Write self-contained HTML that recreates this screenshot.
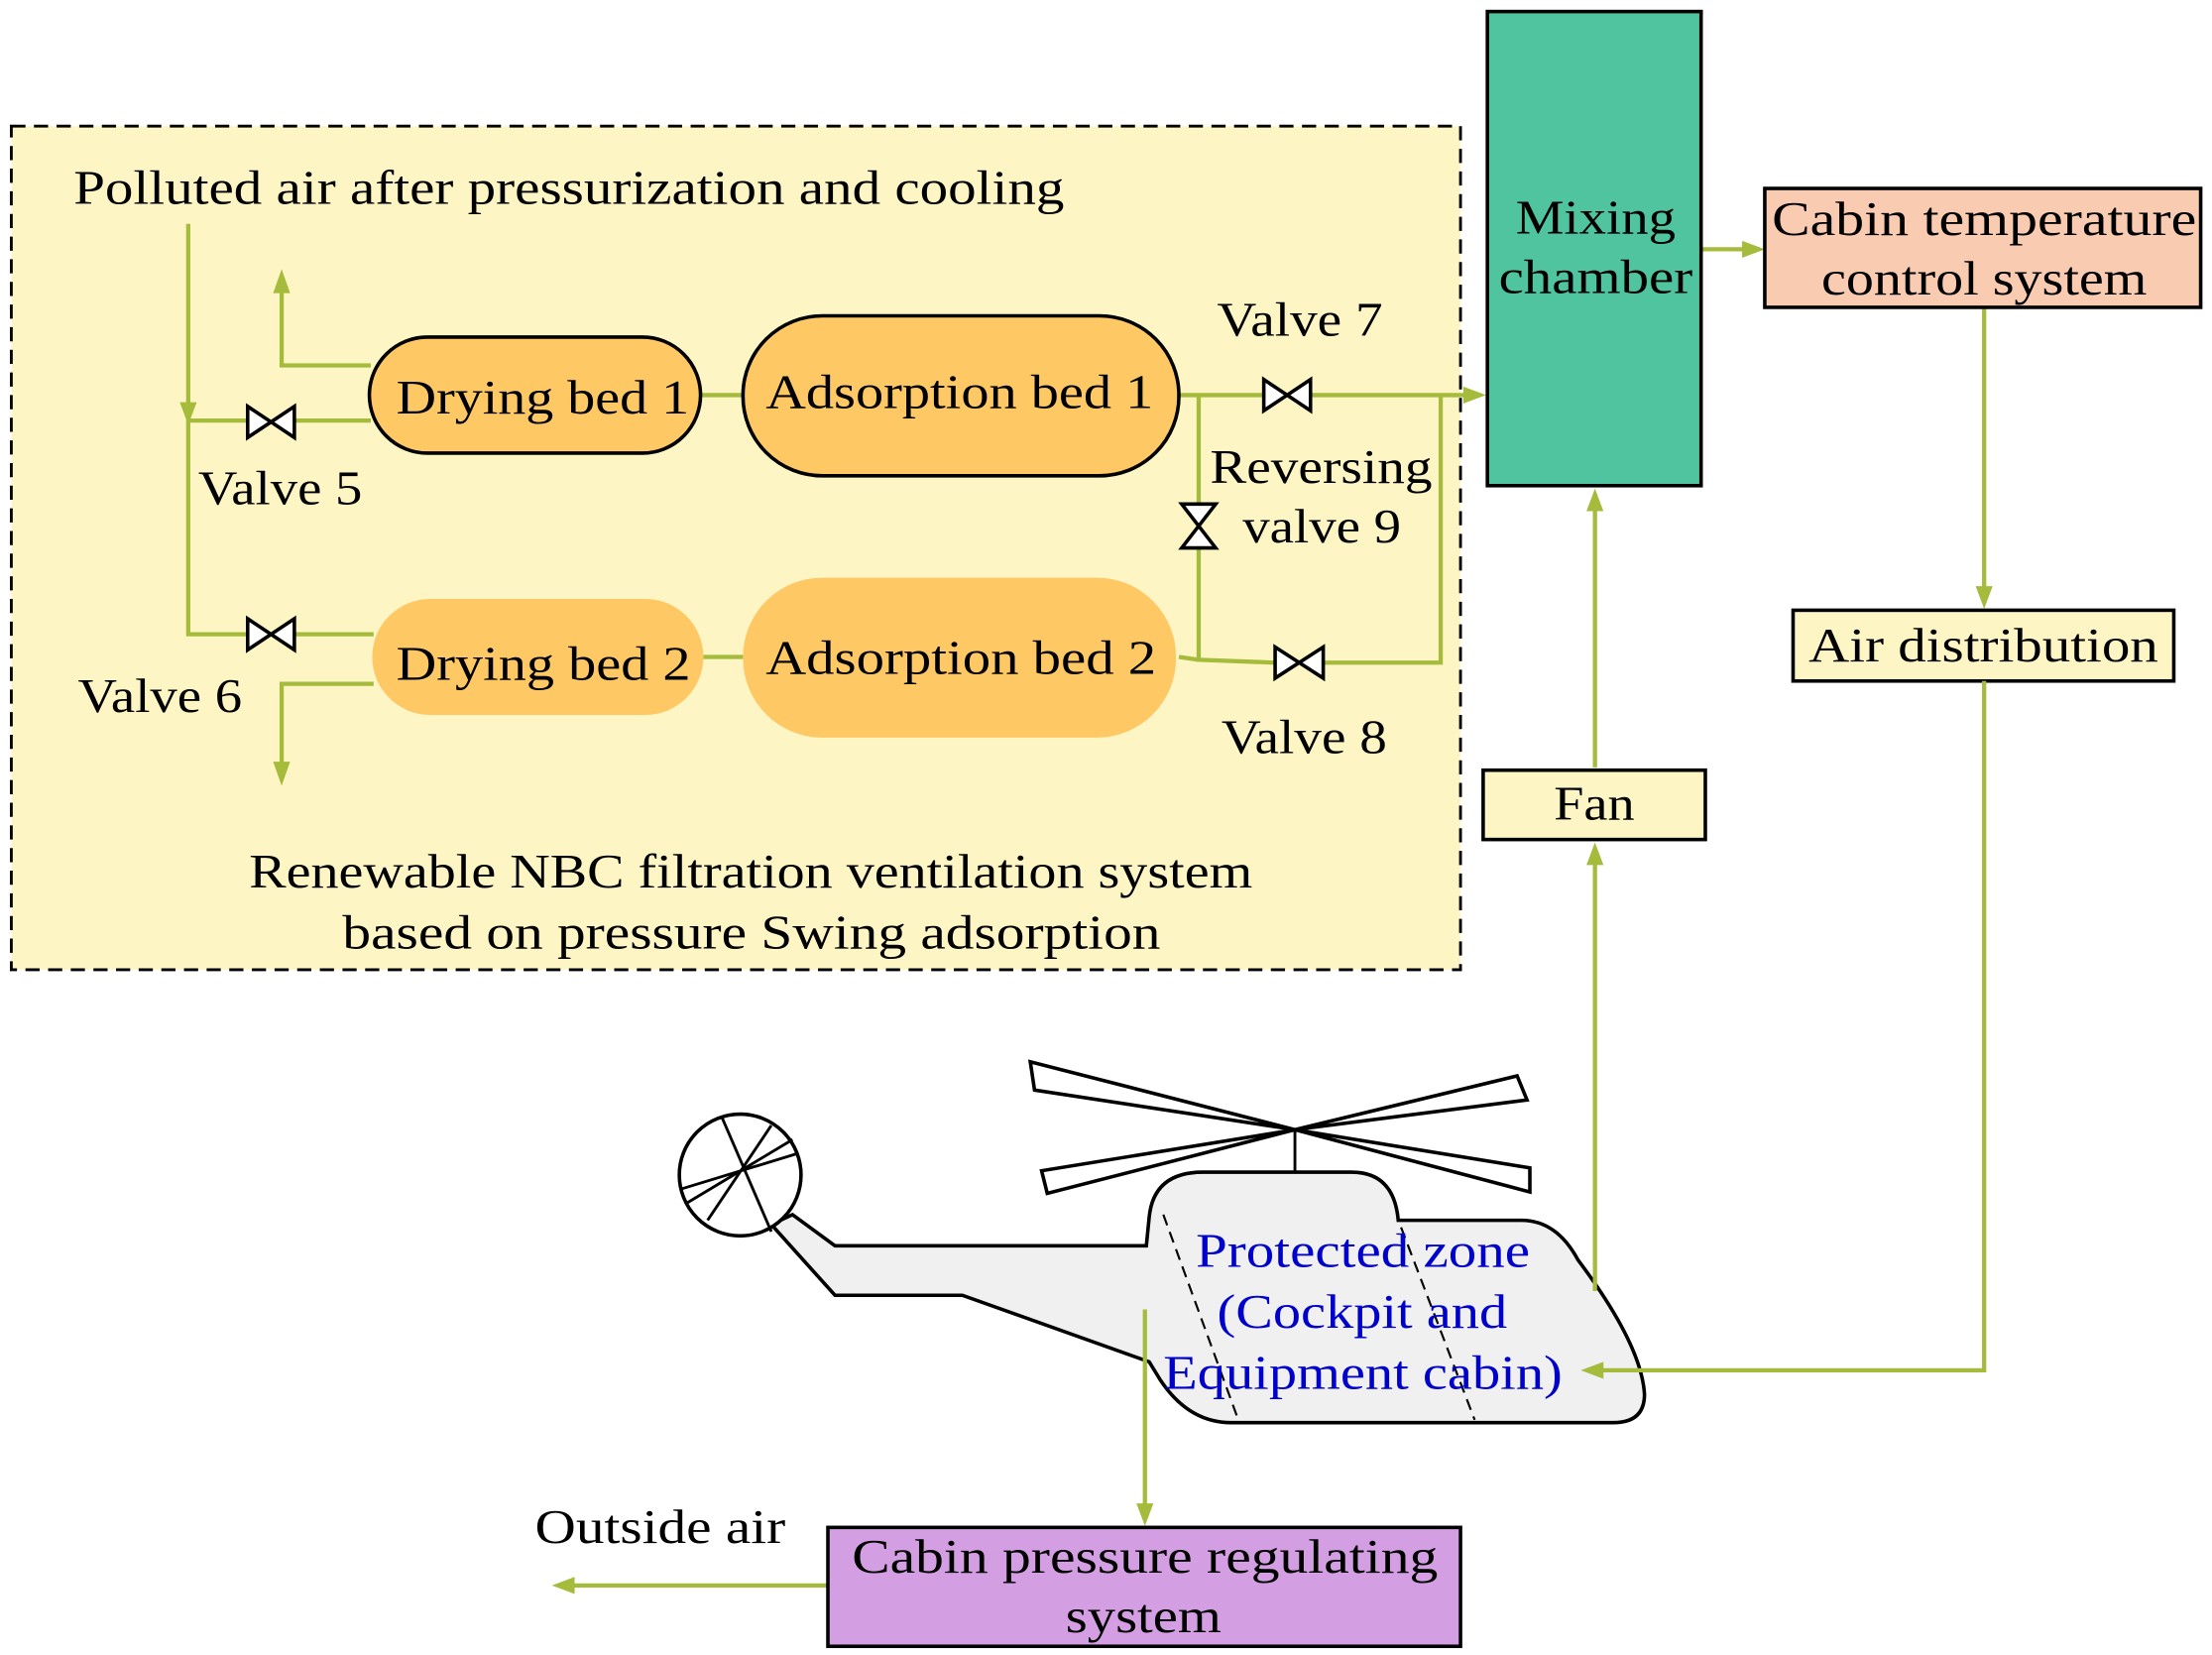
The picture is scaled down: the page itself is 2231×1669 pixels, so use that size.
<!DOCTYPE html>
<html><head><meta charset="utf-8"><style>
html,body{margin:0;padding:0;background:#fff;}
svg{display:block;}
text{font-family:"Liberation Serif",serif;font-size:34px;fill:#000;}
</style></head><body>
<svg width="2231" height="1669" viewBox="0 0 1563 1169" xmlns="http://www.w3.org/2000/svg">
<g>
<rect x="8" y="89" width="1024" height="596" fill="#fdf5c4" stroke="#000" stroke-width="2" stroke-dasharray="10,6"/>
<text x="52" y="144" textLength="700" lengthAdjust="spacingAndGlyphs">Polluted air after pressurization and cooling</text>
<text x="176" y="627" textLength="709" lengthAdjust="spacingAndGlyphs">Renewable NBC filtration ventilation system</text>
<text x="242" y="670" textLength="578" lengthAdjust="spacingAndGlyphs">based on pressure Swing adsorption</text>

<g stroke="#a4bb3c" stroke-width="3" fill="none">
<polyline points="133,158 133,448 175,448"/>
<polyline points="133,297 176,297"/>
<polyline points="208,297 262,297"/>
<polyline points="208,448 264,448"/>
<polyline points="262,258 199,258 199,200"/>
<polyline points="264,483 199,483 199,545"/>
<line x1="495" y1="279" x2="525" y2="279"/>
<line x1="497" y1="464" x2="525" y2="464"/>
<polyline points="833,279 893,279"/>
<polyline points="926,279 1040,279"/>
<polyline points="847,279 847,358"/>
<polyline points="847,388 847,466 900,468"/>
<polyline points="833,464 847,466"/>
<polyline points="936,468 1018,468 1018,279"/>
<line x1="1127" y1="542" x2="1127" y2="355"/>
<line x1="1203" y1="176" x2="1236" y2="176"/>
<line x1="1402" y1="218" x2="1402" y2="420"/>
<line x1="585" y1="1120" x2="400" y2="1120"/>
</g>
<g fill="#a4bb3c">
<polygon points="133,300 127,284 139,284"/>
<polygon points="199,190 193,207 205,207"/>
<polygon points="199,555 193,538 205,538"/>
<polygon points="1050,279 1034,273 1034,285"/>
<polygon points="1127,345 1121,361 1133,361"/>
<polygon points="1247,176 1231,170 1231,182"/>
<polygon points="1402,430 1396,414 1408,414"/>
<polygon points="390,1120 406,1114 406,1126"/>
</g>
<g fill="#fff" stroke="#000" stroke-width="2.5">
<polygon points="175,287 175,309 208,287 208,309"/>
<polygon points="175,437 175,459 208,437 208,459"/>
<polygon points="893,268 893,290 926,268 926,290"/>
<polygon points="901,457 901,479 935,457 935,479"/>
<polygon points="835,356 859,356 835,387 859,387"/>
</g>
<rect x="261" y="238" width="234" height="82" rx="41" fill="#fec965" stroke="#000" stroke-width="2.5"/>
<rect x="525" y="223" width="308" height="113" rx="56" fill="#fec965" stroke="#000" stroke-width="2.5"/>
<rect x="263" y="423" width="234" height="82" rx="41" fill="#fec965"/>
<rect x="525" y="408" width="306" height="113" rx="56" fill="#fec965"/>
<text x="280" y="292" textLength="207" lengthAdjust="spacingAndGlyphs">Drying bed 1</text>
<text x="541" y="288" textLength="274" lengthAdjust="spacingAndGlyphs">Adsorption bed 1</text>
<text x="280" y="480" textLength="208" lengthAdjust="spacingAndGlyphs">Drying bed 2</text>
<text x="541" y="476" textLength="276" lengthAdjust="spacingAndGlyphs">Adsorption bed 2</text>
<text x="140" y="356" textLength="116" lengthAdjust="spacingAndGlyphs">Valve 5</text>
<text x="55" y="503" textLength="116" lengthAdjust="spacingAndGlyphs">Valve 6</text>
<text x="860" y="237" textLength="117" lengthAdjust="spacingAndGlyphs">Valve 7</text>
<text x="863" y="532" textLength="117" lengthAdjust="spacingAndGlyphs">Valve 8</text>
<text x="855" y="341" textLength="157" lengthAdjust="spacingAndGlyphs">Reversing</text>
<text x="878" y="383" textLength="112" lengthAdjust="spacingAndGlyphs">valve 9</text>

<rect x="1051" y="8" width="151" height="335" fill="#50c49e" stroke="#000" stroke-width="2.5"/>
<text x="1071" y="165" textLength="113" lengthAdjust="spacingAndGlyphs">Mixing</text>
<text x="1059" y="207" textLength="137" lengthAdjust="spacingAndGlyphs">chamber</text>
<rect x="1247" y="133" width="308" height="84" fill="#f9cbb0" stroke="#000" stroke-width="2.5"/>
<text x="1252" y="166" textLength="300" lengthAdjust="spacingAndGlyphs">Cabin temperature</text>
<text x="1287" y="208" textLength="230" lengthAdjust="spacingAndGlyphs">control system</text>
<rect x="1267" y="431" width="269" height="50" fill="#fdf5c4" stroke="#000" stroke-width="2.5"/>
<text x="1278" y="467" textLength="247" lengthAdjust="spacingAndGlyphs">Air distribution</text>
<rect x="1048" y="544" width="157" height="49" fill="#fdf5c4" stroke="#000" stroke-width="2.5"/>
<text x="1098" y="579" textLength="57" lengthAdjust="spacingAndGlyphs">Fan</text>
<rect x="585" y="1079" width="447" height="84" fill="#d49ee2" stroke="#000" stroke-width="2.5"/>
<text x="602" y="1111" textLength="414" lengthAdjust="spacingAndGlyphs">Cabin pressure regulating</text>
<text x="753" y="1153" textLength="110" lengthAdjust="spacingAndGlyphs">system</text>
<text x="378" y="1090" textLength="177" lengthAdjust="spacingAndGlyphs">Outside air</text>

<path d="M560,858 L590,880 L810,880 L812,860 Q815,828 850,828 L955,828 Q985,828 988,862 L1075,862 Q1100,862 1115,890 Q1160,950 1162,985 Q1162,1005 1140,1005 L870,1005 Q840,1005 820,975 L812,962 L680,915 L590,915 L545,865 Z" fill="#f0f0f0" stroke="#000" stroke-width="2.5"/>
<g stroke="#000" stroke-width="1.5" stroke-dasharray="8,5">
<line x1="822" y1="858" x2="875" y2="1003"/>
<line x1="990" y1="867" x2="1042" y2="1003"/>
</g>
<ellipse cx="523" cy="830" rx="43" ry="43" fill="#fff" stroke="#000" stroke-width="2.5"/>
<g stroke="#000" stroke-width="2">
<line x1="510" y1="789" x2="545" y2="870"/>
<line x1="485" y1="850" x2="560" y2="805"/>
<line x1="481" y1="840" x2="563" y2="815"/>
<line x1="500" y1="862" x2="545" y2="795"/>
<line x1="915" y1="798" x2="915" y2="828"/>
</g>
<g fill="none" stroke="#000" stroke-width="2.5">
<polygon points="915,798 728,750 731,770"/>
<polygon points="915,798 1072,760 1079,777"/>
<polygon points="915,798 736,827 740,843"/>
<polygon points="915,798 1081,825 1081,842"/>
</g>
<text x="845" y="895" textLength="236" lengthAdjust="spacingAndGlyphs" style="fill:#0000cc">Protected zone</text>
<text x="860" y="938" textLength="205" lengthAdjust="spacingAndGlyphs" style="fill:#0000cc">(Cockpit and</text>
<text x="822" y="981" textLength="282" lengthAdjust="spacingAndGlyphs" style="fill:#0000cc">Equipment cabin)</text>

<g stroke="#a4bb3c" stroke-width="3" fill="none">
<line x1="1127" y1="912" x2="1127" y2="605"/>
<polyline points="1402,481 1402,968 1130,968"/>
<line x1="809" y1="925" x2="809" y2="1068"/>
</g>
<g fill="#a4bb3c">
<polygon points="1127,595 1121,611 1133,611"/>
<polygon points="1117,968 1133,962 1133,974"/>
<polygon points="809,1078 803,1062 815,1062"/>
</g>
</g>
</svg>
</body></html>
